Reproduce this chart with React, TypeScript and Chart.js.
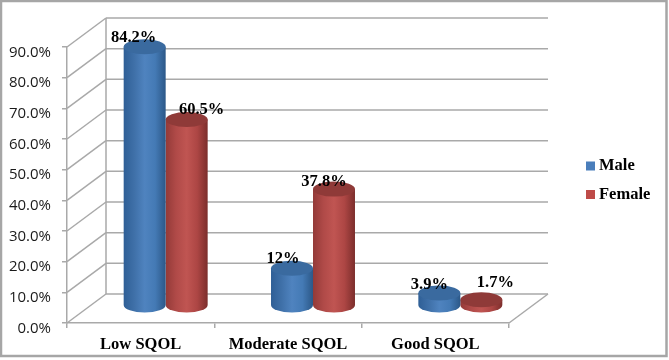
import React, { useEffect, useRef } from "react";
import { Chart, registerables } from "chart.js";

Chart.register(...registerables);

const categories = ["Low SQOL", "Moderate SQOL", "Good SQOL"];
const maleValues = [84.2, 12, 3.9];
const femaleValues = [60.5, 37.8, 1.7];
const seriesNames = ["Male", "Female"];

const SERIF = '"Liberation Serif", "Times New Roman", serif';
const GRID = "#a9a9a9";
const SHADES: Record<string, { stops: string[]; cap: string }> = {
  Male: { stops: ["#2f5f96", "#3f70a8", "#4f83bf", "#447ab5", "#2c5888"], cap: "#3a6a9f" },
  Female: { stops: ["#933a38", "#b04a48", "#c05552", "#ad4644", "#7c2e2c"], cap: "#8f3a38" },
};
// hand-placed label nudges from the top of each cylinder [dx, dy of baseline]
const LABEL_NUDGE: Record<string, number[][]> = {
  Male: [[-11, -5], [-9, -5], [-10, -4]],
  Female: [[15, -5], [-10, -3], [14, -13]],
};
const WALL = { dx: 39, dy: -29 };
const BAR_SHIFT = { dx: 25, dy: -18 };
const CAP_RY = 7.5;
const TICK_LABEL_DROP = 5.5;

const cylinderPlugin = {
  id: "cylinder3d",
  beforeDraw(chart: any) {
    const { ctx, width, height, scales } = chart;
    ctx.save();
    ctx.fillStyle = "#ffffff";
    ctx.fillRect(0, 0, width, height);
    ctx.strokeStyle = "#a6a6a6";
    ctx.lineWidth = 2.5;
    ctx.strokeRect(1, 1, 665.5, 355);
    ctx.restore();
    const items = scales.y.getLabelItems();
    if (!items.__dropped) {
      items.forEach((it: any) => { it.textOffset += TICK_LABEL_DROP; });
      items.__dropped = true;
    }
  },
  beforeDatasetsDraw(chart: any) {
    const { ctx, scales } = chart;
    const { x, y } = scales;
    ctx.save();
    ctx.strokeStyle = GRID;
    ctx.lineWidth = 1.5;
    const l = x.left;
    const r = x.right;
    const line = (a: number, b: number, c: number, d: number) => {
      ctx.beginPath();
      ctx.moveTo(a, b);
      ctx.lineTo(c, d);
      ctx.stroke();
    };
    y.ticks.forEach((t: any) => {
      const py = y.getPixelForValue(t.value);
      line(l, py, l + WALL.dx, py + WALL.dy);
      line(l + WALL.dx, py + WALL.dy, r + WALL.dx, py + WALL.dy);
    });
    line(l + WALL.dx, y.top + WALL.dy, l + WALL.dx, y.bottom + WALL.dy);
    line(r, y.bottom, r + WALL.dx, y.bottom + WALL.dy);
    ctx.restore();
  },
  beforeDatasetDraw(chart: any, args: any) {
    const { ctx, scales } = chart;
    const meta = args.meta;
    const name = chart.data.datasets[args.index].label;
    const shade = SHADES[name];
    const base = scales.y.getPixelForValue(0) + BAR_SHIFT.dy;
    meta.data.forEach((bar: any) => {
      const cx = bar.x + BAR_SHIFT.dx;
      const top = bar.y + BAR_SHIFT.dy;
      const rx = bar.width / 2;
      const g = ctx.createLinearGradient(cx - rx, 0, cx + rx, 0);
      shade.stops.forEach((c, i) => g.addColorStop(i / (shade.stops.length - 1), c));
      ctx.save();
      ctx.fillStyle = g;
      ctx.beginPath();
      ctx.moveTo(cx - rx, top);
      ctx.lineTo(cx - rx, base);
      ctx.ellipse(cx, base, rx, CAP_RY, 0, Math.PI, 0, true);
      ctx.lineTo(cx + rx, top);
      ctx.closePath();
      ctx.fill();
      ctx.fillStyle = shade.cap;
      ctx.beginPath();
      ctx.ellipse(cx, top, rx, CAP_RY, 0, 0, Math.PI * 2);
      ctx.fill();
      ctx.restore();
    });
    return false;
  },
  afterDatasetsDraw(chart: any) {
    const { ctx } = chart;
    ctx.save();
    ctx.font = `bold 16.5px ${SERIF}`;
    ctx.fillStyle = "#000000";
    ctx.textAlign = "center";
    ctx.textBaseline = "alphabetic";
    chart.data.datasets.forEach((ds: any, di: number) => {
      chart.getDatasetMeta(di).data.forEach((bar: any, i: number) => {
        const [nx, ny] = LABEL_NUDGE[ds.label][i];
        ctx.fillText(`${ds.data[i]}%`, bar.x + BAR_SHIFT.dx + nx, bar.y + BAR_SHIFT.dy + ny);
      });
    });
    // legend
    ctx.textAlign = "left";
    ctx.textBaseline = "middle";
    chart.data.datasets.forEach((ds: any, di: number) => {
      const cy = 166 + di * 28.5;
      ctx.fillStyle = ds.backgroundColor;
      ctx.fillRect(586, cy - 4.5, 9, 9);
      ctx.fillStyle = "#000000";
      ctx.fillText(ds.label, 599, cy);
    });
    ctx.restore();
  },
};

export default function App() {
  const ref = useRef<HTMLCanvasElement | null>(null);
  useEffect(() => {
    document.body.style.margin = "0";
    const chart = new Chart(ref.current as HTMLCanvasElement, {
      type: "bar",
      data: {
        labels: categories,
        datasets: [
          { label: seriesNames[0], data: maleValues, backgroundColor: "#4a7ebb" },
          { label: seriesNames[1], data: femaleValues, backgroundColor: "#be4b48" },
        ],
      },
      options: {
        responsive: false,
        animation: false,
        layout: { padding: { left: 0, top: 47, right: 160, bottom: 0 } },
        datasets: { bar: { barPercentage: 1, categoryPercentage: 0.57 } },
        plugins: { legend: { display: false }, tooltip: { enabled: false } },
        scales: {
          x: {
            afterFit: (s: any) => { s.height = 37; },
            grid: { drawOnChartArea: false, tickLength: 5, tickColor: GRID, lineWidth: 1.5 },
            border: { color: GRID, width: 1.5 },
            ticks: { color: "#000000", padding: 7, maxRotation: 0, font: { family: SERIF, size: 16.5, weight: "bold" } },
          },
          y: {
            min: 0,
            max: 90,
            afterFit: (s: any) => { s.width = 67; },
            grid: { drawOnChartArea: false, tickLength: 5, tickColor: GRID, lineWidth: 1.5 },
            border: { color: GRID, width: 1.5 },
            ticks: {
              stepSize: 10,
              padding: 11,
              color: "#1a1a1a",
              font: { family: '"Open Sans"', size: 15 },
              callback: (v: any) => `${Number(v).toFixed(1)}%`,
            },
          },
        },
      } as any,
      plugins: [cylinderPlugin as any],
    });
    return () => chart.destroy();
  }, []);
  return <canvas ref={ref} width={669} height={360} style={{ display: "block" }} />;
}
